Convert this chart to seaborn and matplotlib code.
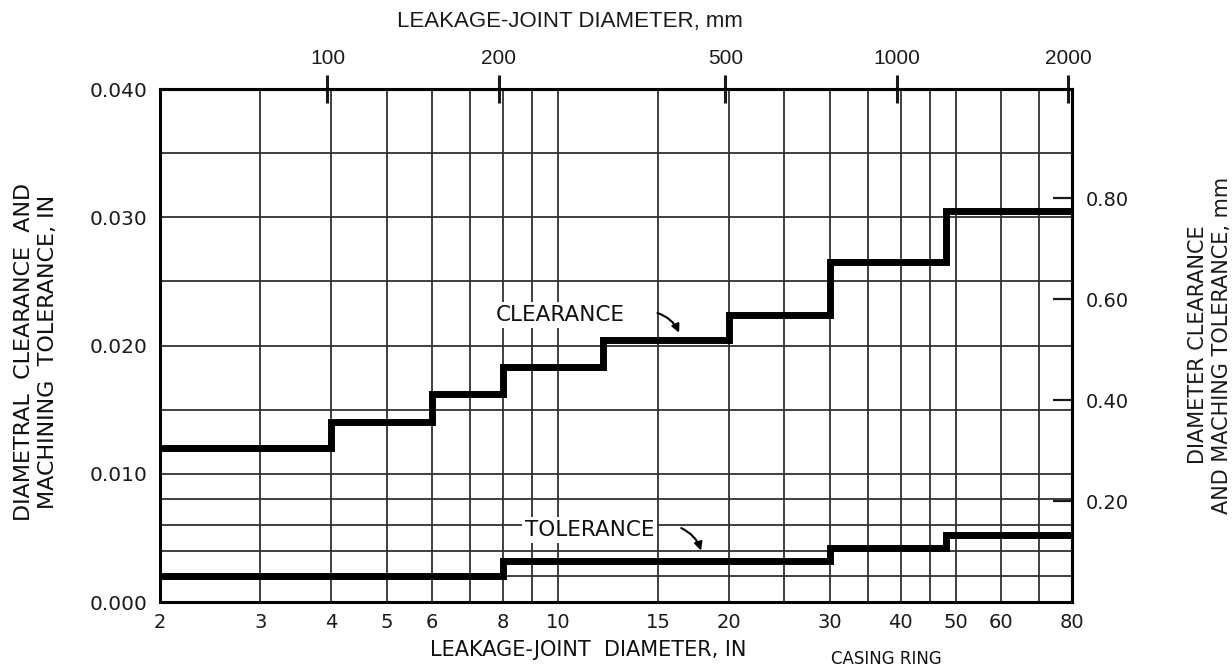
import matplotlib
matplotlib.use("Agg")
import matplotlib.pyplot as plt
from matplotlib.ticker import NullLocator
import seaborn as sns
import pandas as pd

# Leakage-joint diameter breakpoints (in) and allowances (in), step curves
clearance_dia = [2, 4, 6, 8, 12, 20, 30, 48, 80]
clearance_val = [0.012, 0.014, 0.0162, 0.0183, 0.0204, 0.0224, 0.0265, 0.0305, 0.0305]
tolerance_dia = [2, 8, 30, 48, 80]
tolerance_val = [0.002, 0.0032, 0.0042, 0.0052, 0.0052]

bottom_ticks = [2, 3, 4, 5, 6, 8, 10, 15, 20, 30, 40, 50, 60, 80]
bottom_minor = [7, 9, 25, 35, 45, 70]
top_ticks_mm = [100, 200, 500, 1000, 2000]
left_ticks = [0.000, 0.010, 0.020, 0.030, 0.040]
left_minor = [0.002, 0.004, 0.006, 0.008, 0.015, 0.025, 0.035]
right_ticks_mm = [0.20, 0.40, 0.60, 0.80]

sns.set_theme(style="white")
plt.rcParams['font.family'] = ['DejaVu Sans']
NARROW = ['Liberation Sans Narrow', 'Liberation Sans', 'DejaVu Sans']

W, H = 1232, 670
fig = plt.figure(figsize=(W / 100, H / 100), dpi=100)
ax = fig.add_axes([160 / W, 68 / H, 912 / W, 513 / H])
ax.set_xscale('log')

df_c = pd.DataFrame({'dia': clearance_dia, 'val': clearance_val})
df_t = pd.DataFrame({'dia': tolerance_dia, 'val': tolerance_val})
for df in (df_c, df_t):
    sns.lineplot(data=df, x='dia', y='val', drawstyle='steps-post', color='black',
                 lw=5, estimator=None, ax=ax, zorder=5, solid_joinstyle='miter')

ax.set_xlim(2, 80)
ax.set_ylim(0, 0.040)
ax.set_xlabel('')
ax.set_ylabel('')

ax.set_xticks(bottom_ticks, labels=[str(t) for t in bottom_ticks])
ax.set_xticks(bottom_minor, labels=[''] * len(bottom_minor), minor=True)
ax.set_yticks(left_ticks, labels=[f"{t:.3f}" for t in left_ticks])
ax.set_yticks(left_minor, labels=[''] * len(left_minor), minor=True)
ax.grid(which='both', color='#303030', lw=1.3)
ax.tick_params(which='both', length=0)
ax.tick_params(axis='x', labelsize=14, pad=8, colors='#1a1a1a')
ax.tick_params(axis='y', labelsize=14.5, pad=9, colors='#1a1a1a')
for s in ax.spines.values():
    s.set_color('black')
    s.set_linewidth(2.2)

# millimetre scales
top = ax.secondary_xaxis('top', functions=(lambda x: x * 25.4, lambda x: x / 25.4))
top.set_xticks(top_ticks_mm, labels=[str(t) for t in top_ticks_mm])
top.xaxis.set_minor_locator(NullLocator())
top.tick_params(direction='inout', length=20, width=2.2, pad=5, labelsize=15,
                colors='#1a1a1a')
for lab in top.get_xticklabels():
    lab.set_family(NARROW)
top.spines['top'].set_linewidth(2.2)

right = ax.secondary_yaxis('right', functions=(lambda y: y * 25.4, lambda y: y / 25.4))
right.set_yticks(right_ticks_mm, labels=[f"{t:.2f}" for t in right_ticks_mm])
right.yaxis.set_minor_locator(NullLocator())
right.tick_params(direction='in', length=14, width=1.6, pad=10, labelsize=14,
                  colors='#1a1a1a')
right.spines['right'].set_linewidth(2.2)

# curve labels
box = dict(facecolor='white', edgecolor='none', pad=2)
ax.text(10.1, 0.0224, "CLEARANCE", ha='center', va='center', fontsize=15.5,
        color='#111111', bbox=box, zorder=6)
ax.annotate("", xy=(16.4, 0.0208), xytext=(14.8, 0.0226),
            arrowprops=dict(arrowstyle='-|>', color='black', lw=1.5,
                            mutation_scale=12, connectionstyle='arc3,rad=-0.25'),
            zorder=7)
ax.text(11.38, 0.0056, "TOLERANCE", ha='center', va='center', fontsize=15.5,
        color='#111111', bbox=box, zorder=6)
ax.annotate("", xy=(17.9, 0.0038), xytext=(16.3, 0.00585),
            arrowprops=dict(arrowstyle='-|>', color='black', lw=1.5,
                            mutation_scale=12, connectionstyle='arc3,rad=-0.25'),
            zorder=7)

# axis titles
fig.text(570 / W, 1 - 22 / H, "LEAKAGE-JOINT DIAMETER, mm", ha='center', va='center',
         fontsize=16, family=NARROW, color='#1a1a1a')
fig.text(588 / W, 1 - 650 / H, "LEAKAGE-JOINT  DIAMETER, IN", ha='center', va='center',
         fontsize=15, color='#111111')
fig.text(886 / W, 1 - 668 / H, "CASING RING", ha='center', va='bottom',
         fontsize=12, color='#111111')
fig.text(36 / W, 1 - 352 / H, "DIAMETRAL  CLEARANCE  AND\nMACHINING  TOLERANCE, IN",
         rotation=90, ha='center', va='center', fontsize=16, linespacing=1.3,
         color='#111111')
fig.text(1210 / W, 1 - 345 / H, "DIAMETER CLEARANCE\nAND MACHING TOLERANCE, mm",
         rotation=90, ha='center', va='center', fontsize=15, linespacing=1.25,
         color='#1a1a1a')

fig.savefig("out.png", dpi=100, facecolor='white')
